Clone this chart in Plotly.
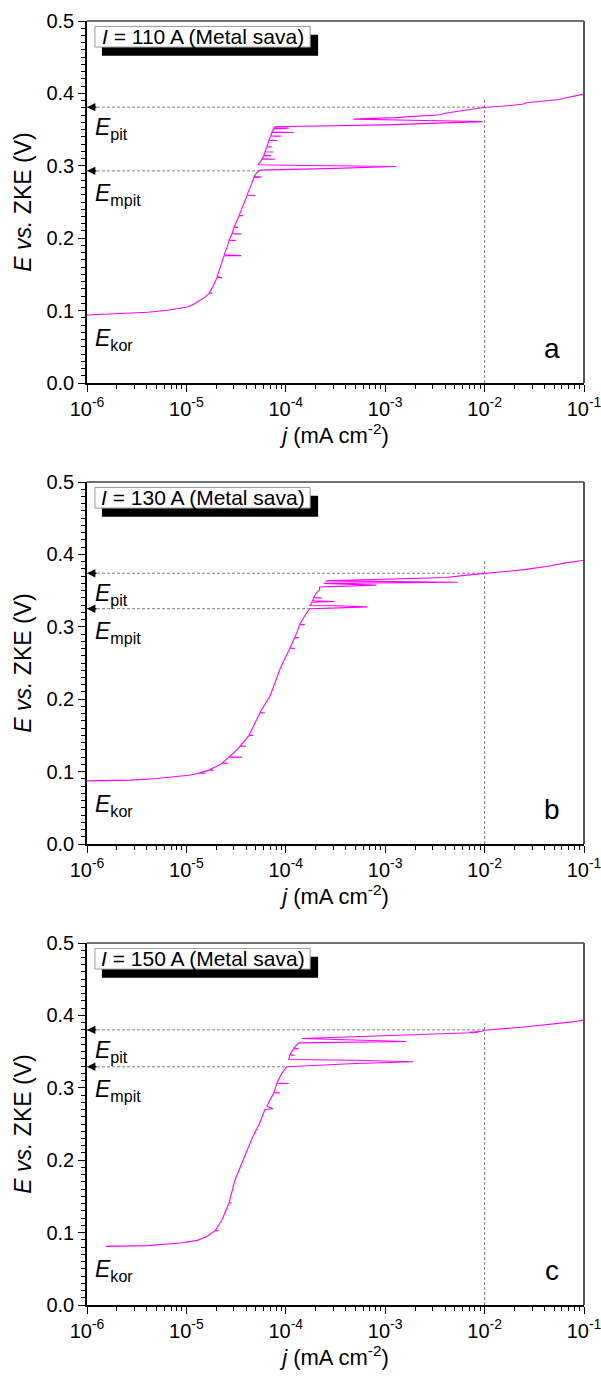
import plotly.graph_objects as go

# ---------------------------------------------------------------------------
# Anodic polarisation curves of weld metal (Metal sava) at three currents.
# j in mA cm^-2, E in V vs. ZKE.
# ---------------------------------------------------------------------------

# I = 110 A
j_110 = [1.00e-6, 1.58e-6, 2.19e-6, 4.07e-6, 6.46e-6, 8.30e-6, 1.02e-5, 1.20e-5,
         1.38e-5, 1.55e-5, 1.70e-5, 1.82e-5, 1.70e-5, 1.86e-5, 2.04e-5, 2.29e-5,
         2.04e-5, 2.19e-5, 2.40e-5, 3.55e-5, 2.40e-5, 2.57e-5, 2.69e-5, 3.16e-5,
         2.69e-5, 2.88e-5, 3.55e-5, 2.88e-5, 3.02e-5, 3.31e-5, 3.02e-5, 3.39e-5,
         3.72e-5, 3.39e-5, 3.72e-5, 4.07e-5, 4.90e-5, 4.07e-5, 4.47e-5, 4.79e-5,
         5.75e-5, 4.79e-5, 5.13e-5, 5.50e-5, 3.16e-4, 1.29e-3, 1.58e-4, 5.25e-5,
         5.50e-5, 5.75e-5, 7.76e-5, 5.75e-5, 6.03e-5, 7.08e-5, 6.03e-5, 6.17e-5,
         7.41e-5, 6.17e-5, 6.46e-5, 7.24e-5, 6.46e-5, 6.76e-5, 8.13e-5, 6.76e-5,
         7.08e-5, 8.91e-5, 7.08e-5, 7.24e-5, 1.20e-4, 7.24e-5, 7.59e-5, 1.07e-4,
         7.59e-5, 7.76e-5, 1.00e-3, 9.55e-3, 2.51e-3, 4.79e-4, 1.26e-3, 3.55e-3,
         3.98e-3, 6.31e-3, 9.77e-3, 1.58e-2, 2.40e-2, 2.63e-2, 3.98e-2, 5.62e-2,
         6.61e-2, 1.00e-1]
E_110 = [0.0940, 0.0955, 0.0965, 0.0978, 0.1005, 0.1025, 0.1050, 0.1090,
         0.1140, 0.1190, 0.1240, 0.1240, 0.1245, 0.1340, 0.1460, 0.1450,
         0.1470, 0.1600, 0.1760, 0.1760, 0.1770, 0.1880, 0.1970, 0.1970,
         0.1975, 0.2060, 0.2060, 0.2065, 0.2150, 0.2150, 0.2155, 0.2310,
         0.2310, 0.2315, 0.2450, 0.2590, 0.2590, 0.2595, 0.2730, 0.2840,
         0.2845, 0.2850, 0.2910, 0.2940, 0.2965, 0.2990, 0.3005, 0.3015,
         0.3050, 0.3090, 0.3090, 0.3095, 0.3140, 0.3140, 0.3145, 0.3190,
         0.3190, 0.3195, 0.3260, 0.3260, 0.3265, 0.3350, 0.3350, 0.3355,
         0.3410, 0.3410, 0.3415, 0.3460, 0.3460, 0.3465, 0.3510, 0.3520,
         0.3525, 0.3540, 0.3565, 0.3610, 0.3625, 0.3645, 0.3665, 0.3705,
         0.3725, 0.3770, 0.3806, 0.3825, 0.3850, 0.3870, 0.3890, 0.3915,
         0.3940, 0.3990]

# I = 130 A
j_130 = [1.00e-6, 2.75e-6, 5.01e-6, 7.41e-6, 8.32e-6, 7.41e-6, 1.05e-5, 1.35e-5,
         1.55e-5, 1.35e-5, 1.70e-5, 1.86e-5, 1.70e-5, 2.00e-5, 2.29e-5, 2.63e-5,
         2.29e-5, 2.69e-5, 3.63e-5, 2.69e-5, 3.09e-5, 3.47e-5, 3.98e-5, 3.47e-5,
         3.89e-5, 4.27e-5, 4.68e-5, 4.27e-5, 4.90e-5, 5.50e-5, 6.17e-5, 5.50e-5,
         6.17e-5, 6.92e-5, 7.76e-5, 8.71e-5, 9.77e-5, 1.10e-4, 1.23e-4, 1.10e-4,
         1.23e-4, 1.35e-4, 1.23e-4, 1.32e-4, 1.38e-4, 1.55e-4, 1.38e-4, 1.62e-4,
         1.74e-4, 3.47e-4, 6.61e-4, 3.16e-4, 1.76e-4, 1.82e-4, 3.09e-4, 1.86e-4,
         1.91e-4, 2.29e-4, 1.91e-4, 2.04e-4, 2.19e-4, 2.19e-4, 8.13e-4, 2.40e-4,
         1.26e-3, 5.37e-3, 2.51e-4, 4.07e-3, 6.31e-3, 1.00e-2, 1.20e-2, 2.51e-2,
         4.47e-2, 6.31e-2, 1.00e-1]
E_130 = [0.0872, 0.0882, 0.0905, 0.0927, 0.0930, 0.0932, 0.0950, 0.0978,
         0.0978, 0.0982, 0.1020, 0.1020, 0.1025, 0.1070, 0.1116, 0.1116,
         0.1120, 0.1200, 0.1200, 0.1205, 0.1280, 0.1350, 0.1350, 0.1355,
         0.1430, 0.1500, 0.1500, 0.1505, 0.1670, 0.1810, 0.1810, 0.1815,
         0.1930, 0.2040, 0.2220, 0.2410, 0.2560, 0.2700, 0.2700, 0.2705,
         0.2850, 0.2850, 0.2855, 0.2950, 0.3030, 0.3030, 0.3035, 0.3190,
         0.3250, 0.3262, 0.3275, 0.3290, 0.3295, 0.3340, 0.3350, 0.3360,
         0.3400, 0.3400, 0.3405, 0.3470, 0.3510, 0.3550, 0.3575, 0.3600,
         0.3605, 0.3615, 0.3635, 0.3680, 0.3710, 0.3740, 0.3750, 0.3790,
         0.3840, 0.3880, 0.3920]

# I = 150 A
j_150 = [1.55e-6, 4.07e-6, 8.71e-6, 1.29e-5, 1.62e-5, 1.95e-5, 2.09e-5, 1.95e-5,
         2.29e-5, 2.69e-5, 2.82e-5, 2.69e-5, 3.09e-5, 3.63e-5, 4.07e-5, 4.57e-5,
         5.37e-5, 6.17e-5, 7.41e-5, 6.46e-5, 6.92e-5, 7.59e-5, 8.71e-5, 7.59e-5,
         8.13e-5, 1.07e-4, 8.13e-5, 9.12e-5, 1.02e-4, 5.01e-4, 1.91e-3, 5.01e-4,
         1.07e-4, 1.10e-4, 1.23e-4, 1.10e-4, 1.20e-4, 1.35e-4, 1.20e-4, 1.35e-4,
         5.01e-4, 1.62e-3, 1.45e-4, 8.51e-3, 7.08e-3, 9.33e-3, 1.00e-2, 2.51e-2,
         5.01e-2, 7.59e-2, 1.00e-1]
E_150 = [0.0810, 0.0820, 0.0857, 0.0893, 0.0950, 0.1027, 0.1027, 0.1030,
         0.1180, 0.1410, 0.1410, 0.1415, 0.1730, 0.1960, 0.2140, 0.2300,
         0.2490, 0.2700, 0.2710, 0.2745, 0.2830, 0.2930, 0.2930, 0.2935,
         0.3060, 0.3060, 0.3065, 0.3200, 0.3290, 0.3335, 0.3360, 0.3380,
         0.3390, 0.3450, 0.3450, 0.3455, 0.3540, 0.3540, 0.3545, 0.3620,
         0.3630, 0.3640, 0.3680, 0.3763, 0.3765, 0.3780, 0.3795, 0.3840,
         0.3880, 0.3910, 0.3935]

currents = ["110", "130", "150"]
panel_letters = ["a", "b", "c"]
j_series = [j_110, j_130, j_150]
E_series = [E_110, E_130, E_150]

# characteristic potentials (V) and where the metastable-pitting line meets the curve
E_pit = [0.381, 0.374, 0.380]
E_mpit = [0.293, 0.325, 0.329]
j_mpit = [5.5e-5, 1.74e-4, 1.0e-4]
E_kor = [0.094, 0.087, 0.081]
j_ref = 1.0e-2                      # reference current density for E_pit
E_ref_top = [0.392, 0.391, 0.389]   # upper end of the j_ref guide

x_ticks = [1e-6, 1e-5, 1e-4, 1e-3, 1e-2, 1e-1]
x_ticktext = ["10<sup>-6</sup>", "10<sup>-5</sup>", "10<sup>-4</sup>",
              "10<sup>-3</sup>", "10<sup>-2</sup>", "10<sup>-1</sup>"]
y_ticks = [0.0, 0.1, 0.2, 0.3, 0.4, 0.5]

# ---------------------------------------------------------------------------
FONT = "Liberation Sans, Arial, sans-serif"
CURVE = "#FF00FF"
GUIDE = "#7f7f7f"
W, H = 601, 1377
ML, MR, MT, MB = 87, 17, 21, 72
plot_h = H - MT - MB
# panel tops / bottoms in page pixels
tops = [21, 482, 943]
bottoms = [383, 844, 1305]

minor_x = [m * d for d in x_ticks[:-1] for m in range(2, 10)]

fig = go.Figure()
annotations = []
shapes = []

for i in range(3):
    n = "" if i == 0 else str(i + 1)
    xa, ya = "x" + n, "y" + n
    j, E = j_series[i], E_series[i]

    # guide lines
    fig.add_trace(go.Scatter(x=[j_ref, j_ref], y=[0, E_ref_top[i]], mode="lines",
                             line=dict(color=GUIDE, width=1, dash="3px,2px"),
                             xaxis=xa, yaxis=ya, hoverinfo="skip"))
    fig.add_trace(go.Scatter(x=[x_ticks[0], j_ref], y=[E_pit[i], E_pit[i]], mode="lines",
                             line=dict(color=GUIDE, width=1, dash="3px,2px"),
                             xaxis=xa, yaxis=ya, hoverinfo="skip"))
    fig.add_trace(go.Scatter(x=[x_ticks[0], j_mpit[i]], y=[E_mpit[i], E_mpit[i]], mode="lines",
                             line=dict(color=GUIDE, width=1, dash="3px,2px"),
                             xaxis=xa, yaxis=ya, hoverinfo="skip"))
    # polarisation curve
    fig.add_trace(go.Scatter(x=j, y=E, mode="lines",
                             line=dict(color=CURVE, width=1.1),
                             xaxis=xa, yaxis=ya))

    y0 = (H - MB - bottoms[i]) / plot_h
    y1 = (H - MB - tops[i]) / plot_h
    axis_common = dict(showline=True, linecolor="black", linewidth=1.5,
                       ticks="outside", tickcolor="black", tickwidth=1.3, ticklen=7,
                       tickfont=dict(family=FONT, size=20, color="black"),
                       ticklabeloverflow="allow", automargin=False,
                       showgrid=False, zeroline=False)
    fig.layout["xaxis" + n] = dict(
        axis_common, type="log", range=[-6, -1], domain=[0, 1], anchor=ya,
        tickmode="array", tickvals=x_ticks, ticktext=x_ticktext,
        minor=dict(tickmode="array", tickvals=minor_x, ticks="outside",
                   ticklen=4, tickcolor="black", tickwidth=1.1, showgrid=False),
        title=dict(text="<i>j</i> (mA cm<sup>-2</sup>)",
                   font=dict(family=FONT, size=22, color="black"), standoff=6),
    )
    fig.layout["yaxis" + n] = dict(
        axis_common, range=[0, 0.5], domain=[y0, y1], anchor=xa,
        tickmode="array", tickvals=y_ticks, ticktext=[f"{v:.1f}" for v in y_ticks],
        minor=dict(dtick=0.01, ticks="outside", ticklen=4, tickcolor="black",
                   tickwidth=1.1, showgrid=False),
        title=dict(text="<i>E</i> <i>vs.</i> ZKE (V)",
                   font=dict(family=FONT, size=23, color="black"), standoff=8),
    )

    xd, yd = xa + " domain", ya + " domain"
    # frame on top / right
    shapes.append(dict(type="line", xref=xd, yref=yd, x0=0, x1=1, y0=1, y1=1,
                       line=dict(color="#444", width=1.5)))
    shapes.append(dict(type="line", xref=xd, yref=yd, x0=1, x1=1, y0=0, y1=1,
                       line=dict(color="#555", width=2)))

    # label box with drop shadow
    shapes.append(dict(type="rect", xref=xd, yref=yd, x0=0.030, x1=0.465,
                       y0=0.904, y1=0.962, fillcolor="black", line=dict(width=0)))
    shapes.append(dict(type="rect", xref=xd, yref=yd, x0=0.016, x1=0.449,
                       y0=0.928, y1=0.985, fillcolor="white",
                       line=dict(color="#999", width=1)))
    annotations.append(dict(xref=xd, yref=yd, x=0.2325, y=0.9565, showarrow=False,
                            text=f"<i>I</i> = {currents[i]} A (Metal sava)",
                            font=dict(family=FONT, size=21, color="black"),
                            xanchor="center", yanchor="middle"))

    # arrowheads on the potential guides
    for Ev in (E_pit[i], E_mpit[i]):
        annotations.append(dict(xref=xa, yref=ya, x=-6, y=Ev, ax=11, ay=0,
                                text="", showarrow=True, arrowhead=2, arrowsize=1.2,
                                arrowwidth=1.4, arrowcolor="black", standoff=0))

    # potential labels
    for name, Ev, dy in (("pit", E_pit[i], 0.030), ("mpit", E_mpit[i], 0.033),
                         ("kor", E_kor[i], 0.034)):
        annotations.append(dict(xref=xd, yref=ya, x=0.012, y=Ev - dy,
                                text=f"<i>E</i><sub>{name}</sub>", showarrow=False,
                                xanchor="left", yanchor="middle",
                                font=dict(family=FONT, size=23, color="black")))

    # panel letter
    annotations.append(dict(xref=xd, yref=yd, x=0.936, y=0.095,
                            text=panel_letters[i], showarrow=False,
                            xanchor="center", yanchor="middle",
                            font=dict(family=FONT, size=28, color="black")))

fig.update_layout(
    width=W, height=H,
    margin=dict(l=ML, r=MR, t=MT, b=MB),
    paper_bgcolor="white", plot_bgcolor="white",
    showlegend=False,
    shapes=shapes, annotations=annotations,
    font=dict(family=FONT, color="black"),
)

fig.write_html("out.html")
